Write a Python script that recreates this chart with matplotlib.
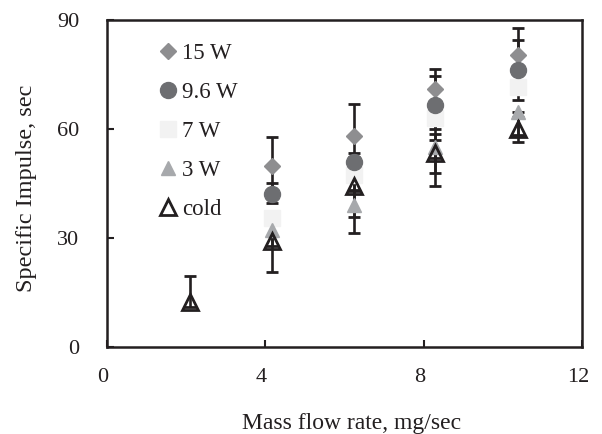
import matplotlib
matplotlib.use("Agg")
import matplotlib.pyplot as plt
import matplotlib.transforms as mtransforms
import numpy as np

plt.rcParams['font.family'] = ['Liberation Serif', 'DejaVu Serif']

# Data
x_cold = [2.1, 4.17, 6.25, 8.28, 10.39]
y_cold = [12.5, 29.2, 44.3, 53.5, 59.9]
err_cold_lo = [1.5, 1.5, 1.5, 1.5, 1.5]
err_cold_hi = [7.0, 6.0, 8.0, 5.0, 3.4]

x_hot = [4.17, 6.25, 8.28, 10.39]
y_15 = [49.8, 58.1, 70.9, 80.4]
err_15_lo = [8.0, 8.8, 5.0, 4.0]
err_15_hi = [7.9, 8.8, 5.5, 7.3]

y_96 = [42.1, 51.0, 66.6, 76.2]
err_96_lo = [2.5, 2.5, 6.7, 8.2]
err_96_hi = [3.1, 2.5, 8.0, 8.3]

y_7 = [35.4, 47.3, 63.0, 71.6]
err_7_lo = [0.0, 11.4, 15.2, 0.0]
err_7_hi = [0.0, 0.0, 0.0, 0.0]

y_3 = [32.2, 39.1, 55.0, 64.8]
err_3_lo = [11.5, 7.8, 10.7, 8.3]
err_3_hi = [3.0, 4.0, 2.0, 0.0]

labels = ["15 W", "9.6 W", "7 W", "3 W", "cold"]
xticks = [0, 4, 8, 12]
yticks = [0, 30, 60, 90]

dark = "#231f20"
fig = plt.figure(figsize=(6.02, 4.34), dpi=100)
ax = fig.add_axes([107/602, 1-347/434, 475/602, 327/434])

ekw = dict(ecolor=dark, elinewidth=1.9, capsize=4.3, capthick=2.0, ls='none', zorder=2)
ax.errorbar(x_hot, y_15, yerr=[err_15_lo, err_15_hi], fmt='none', **ekw)
ax.errorbar(x_hot, y_96, yerr=[err_96_lo, err_96_hi], fmt='none', **ekw)
ax.errorbar(x_hot, y_7, yerr=[err_7_lo, err_7_hi], fmt='none', **ekw)
ax.errorbar(x_hot, y_3, yerr=[err_3_lo, err_3_hi], fmt='none', **ekw)
ax.errorbar(x_cold, y_cold, yerr=[err_cold_lo, err_cold_hi], fmt='none', **ekw)

h15, = ax.plot(x_hot, y_15, ls='none', marker='D', ms=7.8, mfc='#8e8e90', mec='#8e8e90', zorder=3)
h96, = ax.plot(x_hot, y_96, ls='none', marker='o', ms=11.5, mfc='#6d6e71', mec='#6d6e71', zorder=3)
h7, = ax.plot(x_hot, y_7, ls='none', marker='s', ms=11.5, mfc='#f2f2f2', mec='#f2f2f2', zorder=2.5)
h3, = ax.plot(x_hot, y_3, ls='none', marker='^', ms=10, mfc='#a7a9ac', mec='#a7a9ac', zorder=3)
hc, = ax.plot(x_cold, y_cold, ls='none', marker='^', ms=12, mfc='none', mec=dark, mew=2.0, zorder=4)

ax.set_xlim(0, 12)
ax.set_ylim(0, 90)
ax.set_xticks(xticks)
ax.set_yticks(yticks)
ax.tick_params(direction='in', length=5, width=1.5, color=dark, labelsize=16, labelcolor=dark)
ax.tick_params(axis='x', pad=15)
ax.tick_params(axis='y', pad=20)
for s in ax.spines.values():
    s.set_linewidth(1.8)
    s.set_color(dark)

off = mtransforms.ScaledTranslation(-4/100, 0, fig.dpi_scale_trans)
for lbl in ax.get_xticklabels():
    lbl.set_transform(lbl.get_transform() + off)

fig.text(27/602, 1-188/434, "Specific Impulse, sec", rotation=90, ha='center', va='center', fontsize=17.5, color=dark)
fig.text(352/602, 1-424/434, "Mass flow rate, mg/sec", ha='center', va='center', fontsize=17, color=dark)

leg = ax.legend([h15, h96, h7, h3, hc], labels, loc='upper left', frameon=False,
                fontsize=16.5, bbox_to_anchor=(0.095, 0.958), handlelength=0.6, handletextpad=0.3,
                labelspacing=0.78, borderaxespad=0)
for t in leg.get_texts():
    t.set_color(dark)

fig.savefig("out.png", dpi=100)
